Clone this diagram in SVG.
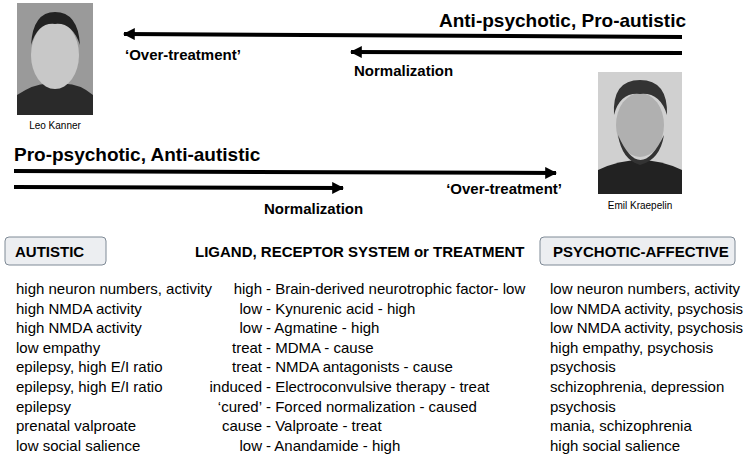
<svg xmlns="http://www.w3.org/2000/svg" width="750" height="459" viewBox="0 0 750 459">
<style>
text{font-family:"Liberation Sans",Arial,sans-serif;fill:#000}
.t{font-size:15px}
.b{font-weight:bold}
.lab{font-size:15px;font-weight:bold}
.cap{font-size:10px}
.ln{stroke:#000;stroke-width:4;fill:none}
.box{fill:#eceef1;stroke:#7f8a96;stroke-width:1}
</style>
<defs>
<marker id="ah" viewBox="0 0 10 10" refX="9" refY="5" markerWidth="3" markerHeight="3" orient="auto"><path d="M0,0L10,5L0,10z" fill="#000"/></marker>
</defs>
<g id="kanner">
<rect x="17" y="3" width="76" height="112" fill="#9a9a9a"/>
<path d="M17,115 L17,95 Q40,80 55,85 Q75,80 93,95 L93,115z" fill="#2a2a2a"/>
<ellipse cx="55" cy="55" rx="24" ry="34" fill="#c8c8c8"/>
<path d="M31,45 Q33,12 55,12 Q78,12 80,45 Q72,22 55,24 Q38,22 31,45z" fill="#222"/>
<text x="55" y="129" class="cap" text-anchor="middle">Leo Kanner</text>
</g>
<g id="kraepelin">
<rect x="598" y="72" width="84" height="122" fill="#d0d0d0"/>
<path d="M598,194 L598,170 Q640,150 682,170 L682,194z" fill="#222"/>
<ellipse cx="640" cy="125" rx="24" ry="32" fill="#b0b0b0"/>
<path d="M614,115 Q612,80 640,80 Q668,80 667,115 Q660,92 640,94 Q620,92 614,115z" fill="#333"/>
<path d="M618,135 Q640,185 664,135 Q660,160 640,165 Q622,160 618,135z" fill="#333"/>
<text x="640" y="209" class="cap" text-anchor="middle">Emil Kraepelin</text>
</g>
<g id="connectors">
<line class="ln" x1="682" y1="37" x2="124" y2="34" marker-end="url(#ah)"/>
<line class="ln" x1="682" y1="53" x2="351" y2="52" marker-end="url(#ah)"/>
<line class="ln" x1="14" y1="171" x2="556" y2="173" marker-end="url(#ah)"/>
<line class="ln" x1="14" y1="187" x2="343" y2="188" marker-end="url(#ah)"/>
</g>
<g id="arrowlabels">
<text x="686" y="27" text-anchor="end" class="b" font-size="19">Anti-psychotic, Pro-autistic</text>
<text x="125" y="60" class="lab">‘Over-treatment’</text>
<text x="354" y="76" class="lab">Normalization</text>
<text x="14" y="161" class="b" font-size="19">Pro-psychotic, Anti-autistic</text>
<text x="562" y="194" text-anchor="end" class="lab">‘Over-treatment’</text>
<text x="264" y="214" class="lab">Normalization</text>
</g>
<g id="autistic"><rect class="box" x="5" y="237" width="101" height="28" rx="4"/><text x="15" y="257" class="b" font-size="15" fill="#333">AUTISTIC</text></g>
<g id="ligand"><text x="195" y="257" class="b" font-size="15">LIGAND, RECEPTOR SYSTEM or TREATMENT</text></g>
<g id="psychotic"><rect class="box" x="540" y="237" width="195" height="28" rx="4"/><text x="553" y="257" class="b" font-size="15" fill="#333">PSYCHOTIC-AFFECTIVE</text></g>
<g id="left" class="t">
<text x="16" y="294">high neuron numbers, activity</text>
<text x="16" y="314">high NMDA activity</text>
<text x="16" y="333">high NMDA activity</text>
<text x="16" y="353">low empathy</text>
<text x="16" y="372">epilepsy, high E/I ratio</text>
<text x="16" y="392">epilepsy, high E/I ratio</text>
<text x="16" y="412">epilepsy</text>
<text x="16" y="431">prenatal valproate</text>
<text x="16" y="451">low social salience</text>
</g>
<g id="middle" class="t">
<text x="262" y="294" text-anchor="end">high</text><text x="266" y="294">- Brain-derived neurotrophic factor- low</text>
<text x="262" y="314" text-anchor="end">low</text><text x="266" y="314">- Kynurenic acid - high</text>
<text x="262" y="333" text-anchor="end">low</text><text x="266" y="333">- Agmatine - high</text>
<text x="262" y="353" text-anchor="end">treat</text><text x="266" y="353">- MDMA  - cause</text>
<text x="262" y="372" text-anchor="end">treat</text><text x="266" y="372">- NMDA antagonists - cause</text>
<text x="262" y="392" text-anchor="end">induced</text><text x="266" y="392">- Electroconvulsive therapy - treat</text>
<text x="262" y="412" text-anchor="end">‘cured’</text><text x="266" y="412">- Forced normalization - caused</text>
<text x="262" y="431" text-anchor="end">cause</text><text x="266" y="431">- Valproate - treat</text>
<text x="262" y="451" text-anchor="end">low</text><text x="266" y="451">- Anandamide - high</text>
</g>
<g id="right" class="t">
<text x="550" y="294">low neuron numbers, activity</text>
<text x="550" y="314">low NMDA activity, psychosis</text>
<text x="550" y="333">low NMDA activity, psychosis</text>
<text x="550" y="353">high empathy, psychosis</text>
<text x="550" y="372">psychosis</text>
<text x="550" y="392">schizophrenia, depression</text>
<text x="550" y="412">psychosis</text>
<text x="550" y="431">mania, schizophrenia</text>
<text x="550" y="451">high social salience</text>
</g>
</svg>
